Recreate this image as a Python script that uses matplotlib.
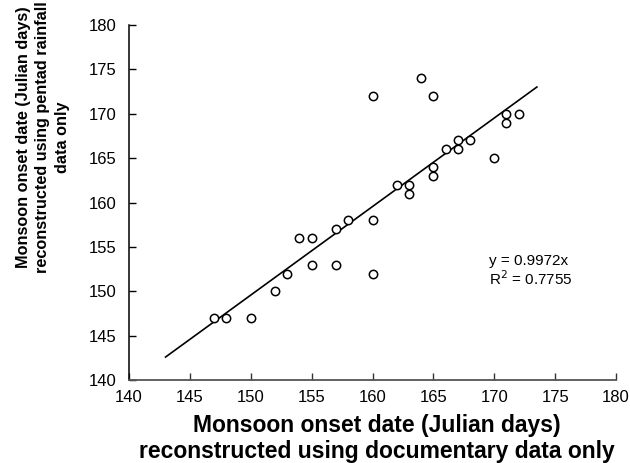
import matplotlib.pyplot as plt
import numpy as np

plt.rcParams['font.family'] = ['Liberation Sans', 'DejaVu Sans']

# documentary-based onset (x) vs pentad rainfall onset (y), Julian days
doc_days = [147, 148, 150, 152, 153, 154, 155, 155, 157, 157, 158, 160, 160, 160,
            162, 163, 163, 164, 165, 165, 165, 166, 167, 167, 168, 170, 171, 171, 172]
pentad_days = [147, 147, 147, 150, 152, 156, 156, 153, 157, 153, 158, 158, 152, 172,
               162, 162, 161, 174, 172, 164, 163, 166, 167, 166, 167, 165, 170, 169, 170]

slope = 0.9972
r2 = 0.7755
fit_range = [143, 173.5]

fig = plt.figure(figsize=(6.3, 4.63), dpi=100)
ax = fig.add_axes([0.2048, 0.179, 0.773, 0.767])

ax.scatter(doc_days, pentad_days, s=36, facecolors='white', edgecolors='black',
           linewidths=1.1, zorder=3)
xf = np.array(fit_range)
ax.plot(xf, slope * xf, color='black', lw=1.2, zorder=2)

ax.set_xlim(140, 180)
ax.set_ylim(140, 180)
ax.set_xticks(range(140, 181, 5))
ax.set_yticks(range(140, 181, 5))
ax.tick_params(direction='in', length=5, width=1, labelsize=12)
ax.tick_params(axis='x', pad=7)
ax.tick_params(axis='y', pad=9)
for s in ['top', 'right']:
    ax.spines[s].set_visible(False)
ax.spines['bottom'].set_color('#555555')
ax.spines['bottom'].set_linewidth(1.3)
ax.spines['left'].set_linewidth(1.1)
ax.tick_params(axis='x', color='#333333')

ax.text(169.55, 152.3, f'y = {slope}x\nR$^2$ = {r2}', fontsize=11,
        va='center', ha='left', linespacing=1.05)

fig.text(0.598, 0.053, 'Monsoon onset date (Julian days)\nreconstructed using documentary data only',
         ha='center', va='center', fontsize=16.5, fontweight='bold', linespacing=1.15)
fig.text(0.068, 0.703, 'Monsoon onset date (Julian days)\nreconstructed using pentad rainfall\ndata only',
         ha='center', va='center', rotation=90, fontsize=11.7, fontweight='heavy', linespacing=1.38)

fig.savefig('out.png', dpi=100)
